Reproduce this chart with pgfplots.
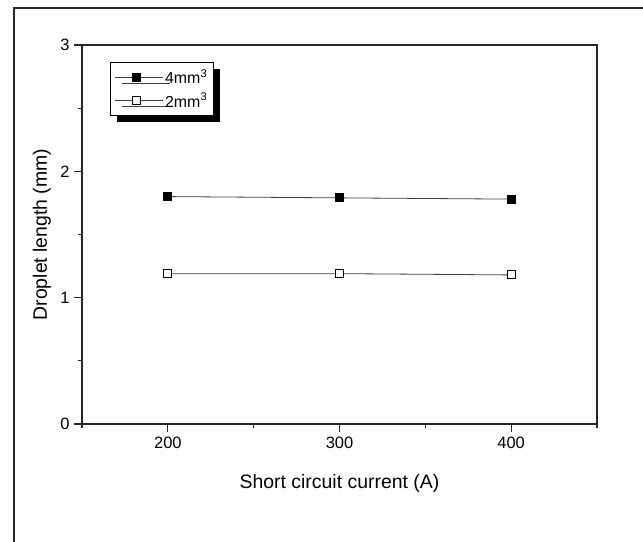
\documentclass[border=0pt]{standalone}
\usepackage{fontspec}
\setmainfont{Liberation Sans}
\usepackage{pgfplots}
\pgfplotsset{compat=1.18}
\usetikzlibrary{shadows}
\begin{document}
\begin{tikzpicture}[x=1bp,y=1bp]
\useasboundingbox (0,0) rectangle (643,542);
\fill[white] (0,0) rectangle (643,542);
\draw[line width=2.5bp,black!85] (14,534) rectangle (670,-30);
\begin{axis}[
  at={(82bp,118bp)}, anchor=south west,
  width=515bp, height=379bp, scale only axis,
  xmin=150, xmax=450, ymin=0, ymax=3,
  xtick={200,300,400}, minor xtick={150,250,350,450},
  ytick={0,1,2,3}, minor ytick={0.5,1.5,2.5},
  tick pos=left, tick align=outside,
  major tick length=8bp, minor tick length=4.5bp,
  axis line style={black!85,line width=1.3bp},
  tick style={black!85,line width=1.1bp},
  /pgf/number format/assume math mode=true,
  xticklabel style={font=\fontsize{16.5}{17}\selectfont, yshift=-2bp},
  yticklabel style={font=\fontsize{16.5}{17}\selectfont, xshift=-1bp},
  xlabel={Short circuit current (A)},
  ylabel={Droplet length (mm)},
  label style={font=\fontsize{19.5}{20}\selectfont},
  xlabel style={at={(axis description cs:0.5,-0.158)}, anchor=center},
  ylabel style={at={(axis description cs:-0.078,0.5)}, anchor=center},
  legend style={at={(axis description cs:0.054,0.955)}, anchor=north west,
    draw=black, line width=1bp, fill=white,
    font=\fontsize{16}{18}\selectfont,
    inner xsep=4bp, inner ysep=5bp, row sep=4bp,
    drop shadow={shadow xshift=7bp, shadow yshift=-6bp, fill=black, opacity=1}},
  legend cell align=left,
  legend image code/.code={\path (-1bp,0bp) -- (47bp,0bp);
    \draw[mark repeat=2,mark phase=2,#1] plot coordinates {(0bp,0bp)(21bp,0bp)(42bp,0bp)};},
]
\addplot[black!75, line width=0.8bp, mark=square*, mark size=4bp,
  mark options={solid, fill=black, draw=black}]
  coordinates {(200,1.80)(300,1.79)(400,1.78)};
\addplot[black!75, line width=0.8bp, mark=square*, mark size=4bp,
  mark options={solid, fill=white, draw=black, line width=0.9bp}]
  coordinates {(200,1.19)(300,1.19)(400,1.18)};
\legend{4mm\textsuperscript{3}, 2mm\textsuperscript{3}}
\end{axis}
\end{tikzpicture}
\end{document}
